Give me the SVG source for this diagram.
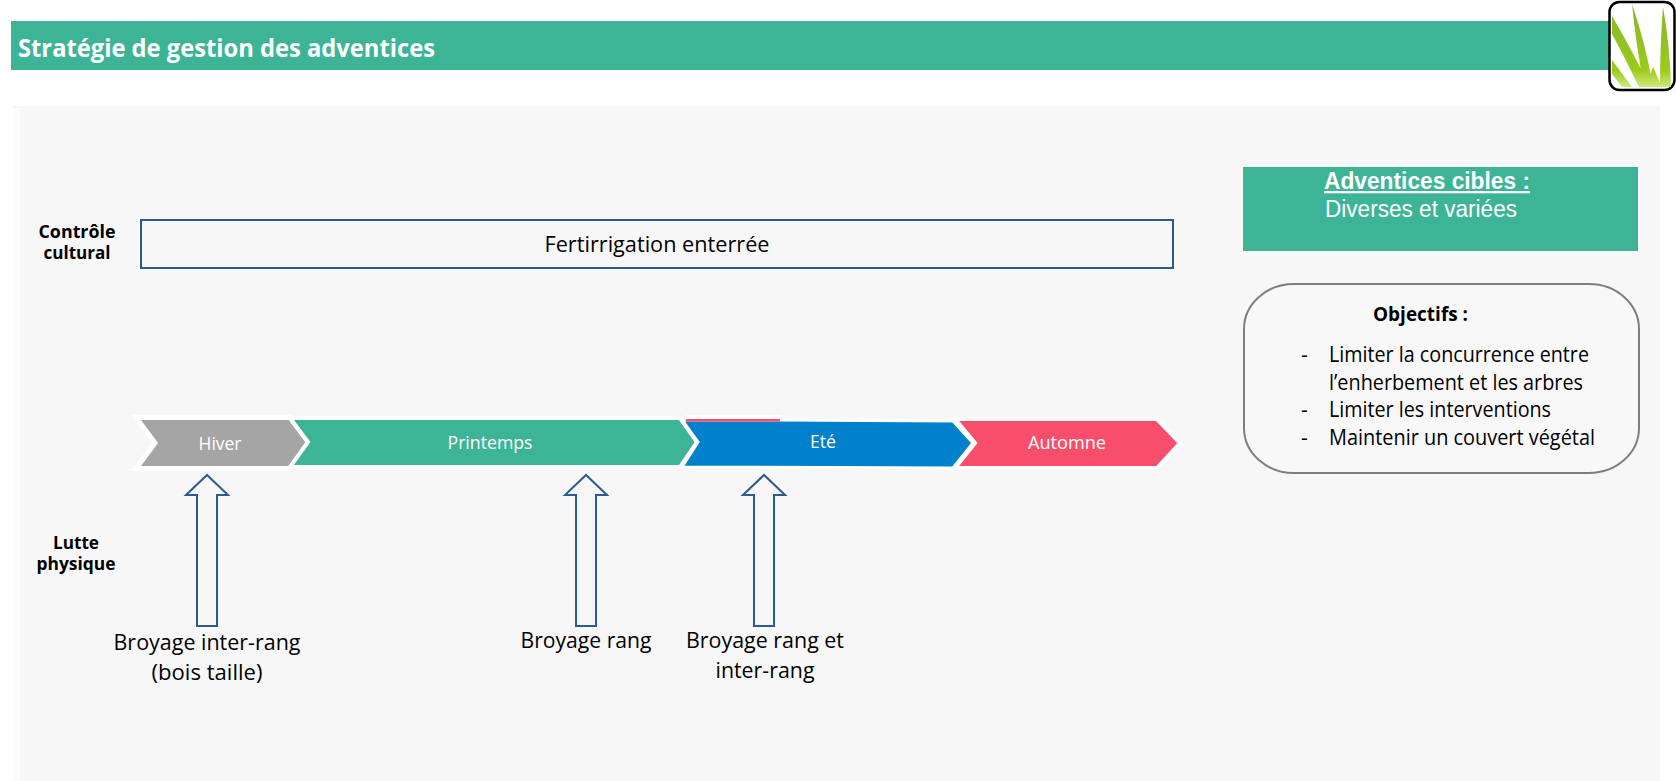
<svg xmlns="http://www.w3.org/2000/svg" width="1676" height="781" viewBox="0 0 1676 781">
<style>
text{font-family:"Open Sans","Noto Sans","Liberation Sans",sans-serif;fill:#000}
.w{fill:#fff}
.ar{font-family:"Liberation Sans",Arial,sans-serif;fill:#fff}
.b{font-weight:700}
.c{text-anchor:middle}
.s{font-size:18px;fill:#fff;text-anchor:middle}
.l{font-size:21px}
.o{font-size:21px}
.a{fill:none;stroke:#2f5a8f;stroke-width:2}
.ch{stroke:#fff;stroke-width:4;stroke-linejoin:miter}
</style>
<defs>
<linearGradient id="g" x1="0" y1="0" x2="0" y2="1"><stop offset="0" stop-color="#86b52a"/><stop offset=".8" stop-color="#9ccb1e"/><stop offset="1" stop-color="#cfe97a"/></linearGradient>
<filter id="soft" x="-5%" y="-5%" width="110%" height="110%"><feGaussianBlur stdDeviation="0.6"/></filter>
</defs>
<rect width="1676" height="781" fill="#fff"/>
<g id="panel"><rect x="13" y="106" width="1647" height="675" fill="#f7f7f7"/><rect x="13" y="108" width="7" height="673" fill="#fbfbfb"/></g>
<g id="header"><rect x="11" y="21" width="1600" height="49" fill="#3eb497"/>
<text class="w b" x="18" y="57" font-size="25" textLength="417" lengthAdjust="spacingAndGlyphs">Stratégie de gestion des adventices</text></g>
<g id="icon"><rect x="1609.5" y="2" width="65" height="88" rx="10" fill="#fff" stroke="#000" stroke-width="2.5"/>
<path filter="url(#soft)" d="M1612 16Q1632 50 1650 87H1639Q1624 56 1612 34ZM1632 4Q1646 45 1653 87H1644Q1636 45 1632 4ZM1663 7Q1670 45 1671 87H1660Q1660 45 1663 7ZM1612 60L1632 87H1622L1612 74ZM1653 67L1662 87H1646Z" fill="url(#g)"/></g>
<g id="controle-label"><text class="b c" x="77" y="238" font-size="18" textLength="77" lengthAdjust="spacingAndGlyphs">Contrôle</text><text class="b c" x="77" y="259" font-size="18" textLength="67" lengthAdjust="spacingAndGlyphs">cultural</text></g>
<g id="fertirrigation"><rect x="141" y="220" width="1032" height="48" fill="none" stroke="#2f5a8f" stroke-width="2"/>
<text class="c" x="657" y="252" font-size="21" textLength="225" lengthAdjust="spacingAndGlyphs">Fertirrigation enterrée</text></g>
<g id="hiver"><path d="M136 417.5H290L309 443L290 468.5H136L155 443Z" stroke="#fff" stroke-width="5" fill="#a5a5a5"/><text class="s" x="220" y="450" textLength="43" lengthAdjust="spacingAndGlyphs">Hiver</text></g>
<g id="printemps"><path class="ch" d="M290 418H680L697 442L680 467H290L308 442Z" fill="#3eb497"/><text class="s" x="490" y="449" textLength="85" lengthAdjust="spacingAndGlyphs">Printemps</text></g>
<g id="ete"><path d="M682 420L780 420L953 421L973 443L953 468L682 467L698 442Z" fill="#0180cb" stroke="#fff" stroke-width="3"/>
<rect x="686" y="415" width="96" height="4" fill="#fff"/><rect x="686" y="419" width="94" height="2.5" fill="#f64e6b"/>
<text class="s" x="823" y="448" textLength="26" lengthAdjust="spacingAndGlyphs">Eté</text></g>
<g id="automne"><path class="ch" d="M955 419H1157L1180 443L1157 468H955L975 443Z" fill="#f64e6b"/><text class="s" x="1067" y="449" textLength="78" lengthAdjust="spacingAndGlyphs">Automne</text></g>
<g id="connectors">
<path class="a" d="M197 626V495H186L207 475L228 495H217V626Z"/>
<path class="a" d="M576 626V495H565L586 475L607 495H596V626Z"/>
<path class="a" d="M754 626V495H743L764 475L785 495H774V626Z"/>
</g>
<g id="lutte-label"><text class="b c" x="76" y="549" font-size="18" textLength="46" lengthAdjust="spacingAndGlyphs">Lutte</text><text class="b c" x="76" y="570" font-size="18" textLength="79" lengthAdjust="spacingAndGlyphs">physique</text></g>
<g id="label-1"><text class="c l" x="207" y="650" textLength="187" lengthAdjust="spacingAndGlyphs">Broyage inter-rang</text><text class="c l" x="207" y="680" textLength="111" lengthAdjust="spacingAndGlyphs">(bois taille)</text></g>
<g id="label-2"><text class="c l" x="586" y="648" textLength="131" lengthAdjust="spacingAndGlyphs">Broyage rang</text></g>
<g id="label-3"><text class="c l" x="765" y="648" textLength="158" lengthAdjust="spacingAndGlyphs">Broyage rang et</text><text class="c l" x="765" y="678" textLength="99" lengthAdjust="spacingAndGlyphs">inter-rang</text></g>
<g id="adventices"><rect x="1243" y="167" width="395" height="84" fill="#3eb497"/>
<text class="ar b" x="1324" y="189" font-size="23" text-decoration="underline" textLength="206" lengthAdjust="spacingAndGlyphs">Adventices cibles :</text>
<text class="ar" x="1325" y="217" font-size="23" textLength="192" lengthAdjust="spacingAndGlyphs">Diverses et variées</text></g>
<g id="objectifs"><rect x="1244" y="284" width="395" height="189" rx="50" ry="45" fill="#f8f8f8" stroke="#7f7f7f" stroke-width="2"/>
<text class="b" x="1373" y="321" font-size="19" textLength="95" lengthAdjust="spacingAndGlyphs">Objectifs :</text>
<text class="o" x="1301" y="362">-</text><text class="o" x="1329" y="362" textLength="260" lengthAdjust="spacingAndGlyphs">Limiter la concurrence entre</text>
<text class="o" x="1329" y="390" textLength="254" lengthAdjust="spacingAndGlyphs">l’enherbement et les arbres</text>
<text class="o" x="1301" y="417">-</text><text class="o" x="1329" y="417" textLength="222" lengthAdjust="spacingAndGlyphs">Limiter les interventions</text>
<text class="o" x="1301" y="445">-</text><text class="o" x="1329" y="445" textLength="266" lengthAdjust="spacingAndGlyphs">Maintenir un couvert végétal</text></g>
</svg>
